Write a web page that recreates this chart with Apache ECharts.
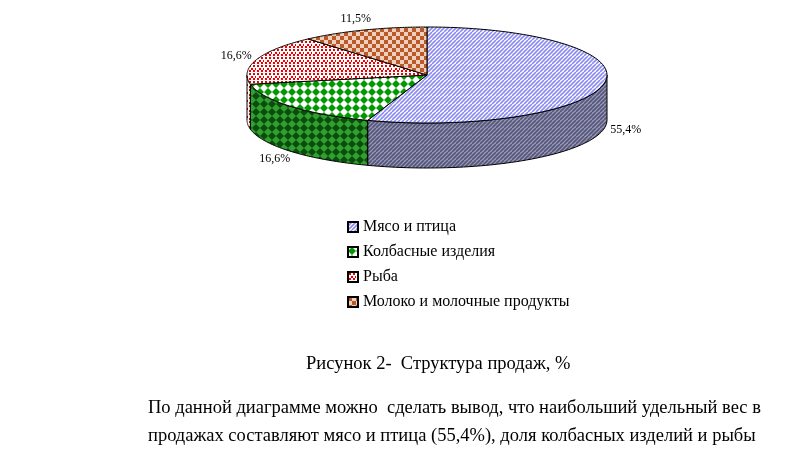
<!DOCTYPE html>
<html><head><meta charset="utf-8">
<script src="https://cdn.jsdelivr.net/npm/echarts@6/dist/echarts.min.js"></script>
<style>html,body{margin:0;background:#fff}#c{width:808px;height:456px}</style>
</head><body><div id="c"></div>
<script>
const categories = ['Мясо и птица','Колбасные изделия','Рыба','Молоко и молочные продукты'];
const values = [55.4, 16.6, 16.6, 11.5];
const labels = ['55,4%','16,6%','16,6%','11,5%'];

function pat(kind){
  const c=document.createElement('canvas');c.width=8;c.height=8;const g=c.getContext('2d');
  const fill=(col)=>{g.fillStyle=col;g.fillRect(0,0,8,8);};
  if(kind==='meat'||kind==='meatS'){
    fill(kind==='meat'?'#ffffff':'#9a9ab8');
    g.strokeStyle=kind==='meat'?'#8c8cf0':'#55557a';g.lineWidth=1.6;
    for(let k=-8;k<=16;k+=4){g.beginPath();g.moveTo(k,8);g.lineTo(k+8,0);g.stroke();}
  } else if(kind==='kol'||kind==='kolS'){
    fill(kind==='kol'?'#ffffff':'#0b4d0b');g.fillStyle=kind==='kol'?'#009a00':'#30a030';
    g.beginPath();g.moveTo(4,0);g.lineTo(8,4);g.lineTo(4,8);g.lineTo(0,4);g.fill();
  } else if(kind==='fish'){
    fill('#ffffff');g.fillStyle='#ee0000';
    [[1,1],[5,1],[3,4],[7,4],[1,6],[5,6]].forEach(p=>g.fillRect(p[0],p[1],2,2));
  } else {
    fill('#ffffff');g.fillStyle='#b85a2a';g.fillRect(0,0,4,4);g.fillRect(4,4,4,4);
    g.fillStyle='#f0d0bc';g.fillRect(4,0,4,4);g.fillRect(0,4,4,4);
  }
  return {image:c,repeat:'repeat'};
}
const tops=[pat('meat'),pat('kol'),pat('fish'),pat('milk')];
const sides=[pat('meatS'),pat('kolS'),pat('fish'),pat('milk')];

const CX=427,CY=75,RX=180,RY=48,D=45;
const total=values.reduce((a,b)=>a+b,0);
const starts=[];let acc=0;values.forEach(v=>{starts.push(acc/total*360);acc+=v;});
const pt=(t,dy)=>{const r=t*Math.PI/180;return [CX+RX*Math.sin(r),CY-RY*Math.cos(r)+(dy||0)];};

function makeSeries(i){
  const a=starts[i], b=a+values[i]/total*360;
  return {type:'custom',name:categories[i],coordinateSystem:'none',data:[[values[i]]],
    itemStyle:{color:tops[i],borderColor:'#000',borderWidth:1},
    renderItem:function(){
      const ch=[];
      const s0=Math.max(a,90), s1=Math.min(b,270);
      if(s1>s0){
        const p=[];for(let t=s0;t<=s1+1e-6;t+=(s1-s0)/60)p.push(pt(t));
        for(let t=s1;t>=s0-1e-6;t-=(s1-s0)/60)p.push(pt(t,D));
        ch.push({type:'polygon',shape:{points:p},style:{fill:sides[i],stroke:'#000',lineWidth:1}});
      }
      const q=[[CX,CY]];for(let t=a;t<=b+1e-6;t+=(b-a)/80)q.push(pt(t));
      ch.push({type:'polygon',shape:{points:q},style:{fill:tops[i],stroke:'#000',lineWidth:1}});
      const m=(a+b)/2*Math.PI/180;
      const front=Math.cos(m)<0;
      ch.push({type:'text',style:{text:labels[i],x:CX+RX*1.12*Math.sin(m),y:CY-RY*1.25*Math.cos(m)+(front?D:0),
        align:'center',verticalAlign:'middle',fontFamily:'Liberation Serif',fontSize:12,fill:'#000'}});
      return {type:'group',children:ch};
    }};
}

const chart=echarts.init(document.getElementById('c'),null,{renderer:'canvas'});
chart.setOption({
  animation:false,
  legend:{orient:'vertical',left:342,top:214,itemWidth:10,itemHeight:10,itemGap:9,icon:'rect',
    textStyle:{fontFamily:'Liberation Serif',fontSize:16,color:'#000'},data:categories},
  graphic:[
    {type:'text',left:306,top:355,style:{text:'Рисунок 2-  Структура продаж, %',fontFamily:'Liberation Serif',fontSize:18.5,fill:'#000'}},
    {type:'text',left:148,top:399,style:{text:'По данной диаграмме можно  сделать вывод, что наибольший удельный вес в',fontFamily:'Liberation Serif',fontSize:18.5,fill:'#000'}},
    {type:'text',left:148,top:427,style:{text:'продажах составляют мясо и птица (55,4%), доля колбасных изделий и рыбы',fontFamily:'Liberation Serif',fontSize:18.5,fill:'#000'}}
  ],
  series:categories.map((c,i)=>makeSeries(i))
});
</script></body></html>
